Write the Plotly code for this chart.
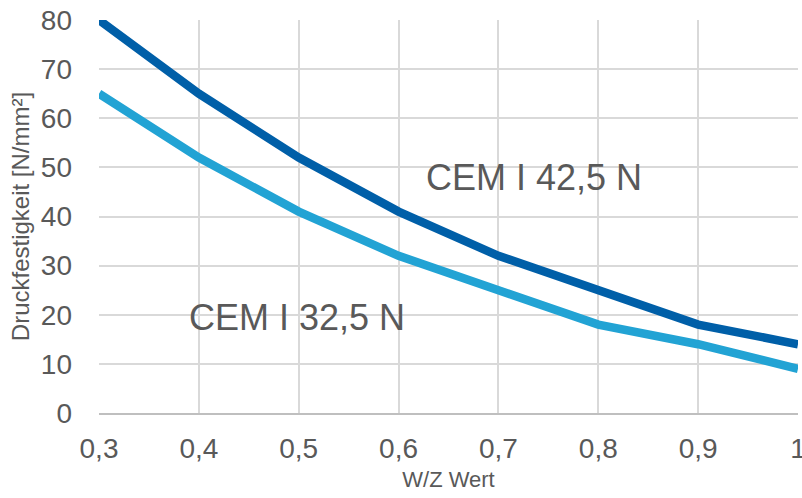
import plotly.graph_objects as go

wz = [0.3, 0.4, 0.5, 0.6, 0.7, 0.8, 0.9, 1.0]
cem42 = [80, 65, 52, 41, 32, 25, 18, 14]
cem32 = [65, 52, 41, 32, 25, 18, 14, 9]
xticks = [0.3, 0.4, 0.5, 0.6, 0.7, 0.8, 0.9, 1.0]
xticklabels = ["0,3", "0,4", "0,5", "0,6", "0,7", "0,8", "0,9", "1"]
yticks = [0, 10, 20, 30, 40, 50, 60, 70, 80]

dark = "#005FA8"
light = "#22A3D4"
txt = "#595959"
font = "Liberation Sans, Arial, sans-serif"

fig = go.Figure()
fig.add_trace(go.Scatter(x=wz, y=cem32, mode="lines", line=dict(color=light, width=8.5), name="CEM I 32,5 N"))
fig.add_trace(go.Scatter(x=wz, y=cem42, mode="lines", line=dict(color=dark, width=8.5), name="CEM I 42,5 N"))

fig.add_annotation(x=0.7356, y=47.9, text="CEM I 42,5 N", showarrow=False,
                   font=dict(family=font, size=36, color=txt))
fig.add_annotation(x=0.498, y=19.4, text="CEM I 32,5 N", showarrow=False,
                   font=dict(family=font, size=36, color=txt))

fig.update_layout(
    width=802, height=498,
    margin=dict(l=99, r=4, t=20, b=84.5, pad=0),
    paper_bgcolor="white", plot_bgcolor="white",
    showlegend=False,
    font=dict(family=font, color=txt),
    xaxis=dict(range=[0.3, 1.0], tickvals=xticks, ticktext=xticklabels,
               automargin=False,
               showgrid=True, gridcolor="#D9D9D9", gridwidth=1.5,
               zeroline=False, showline=True, linecolor="#BFBFBF", linewidth=1.5,
               ticks="", ticklabelstandoff=10, ticklabeloverflow="allow",
               tickfont=dict(family=font, size=28, color=txt),
               title=dict(text="W/Z Wert", font=dict(family=font, size=22, color=txt), standoff=8)),
    yaxis=dict(range=[0, 80], tickvals=yticks,
               automargin=False,
               showgrid=True, gridcolor="#D9D9D9", gridwidth=1.5,
               zeroline=False, showline=False,
               ticks="", ticklabelstandoff=26,
               tickfont=dict(family=font, size=28, color=txt),
               title=dict(text="Druckfestigkeit [N/mm²]", font=dict(family=font, size=24, color=txt), standoff=4)),
)

fig.write_html("out.html")
